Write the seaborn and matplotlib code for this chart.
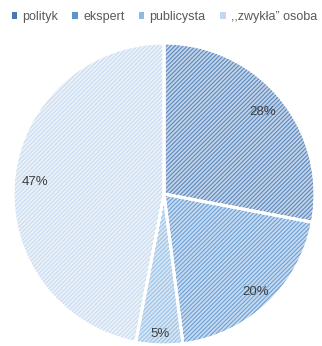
import matplotlib
matplotlib.use("Agg")
import matplotlib.pyplot as plt
from matplotlib.patches import Patch, Wedge
import seaborn as sns

categories = ["polityk", "ekspert", "publicysta", ",,zwykła\u201d osoba"]
shares = [28, 20, 5, 47]
line_colors = ["#4a78b0", "#5b95cf", "#8fb8e2", "#c4d7ee"]
hatch_colors = ["#5a87bd", "#6aa0d6", "#9cc2e8", "#c9dbf0"]
fill_colors = ["#c3d4e8", "#c8dbf1", "#d6e6f5", "#ebf2fa"]
label_dist = [0.85, 0.89, 0.93, 0.86]

sns.set_theme(style="white")
plt.rcParams["font.family"] = ["Liberation Sans", "DejaVu Sans"]
plt.rcParams["hatch.linewidth"] = 0.8

fig = plt.figure(figsize=(3.22, 3.46), dpi=100)
ax = fig.add_axes([13 / 322, 1 / 346, 302 / 322, 302 / 346])

wedges, texts, autotexts = ax.pie(
    shares,
    colors=sns.color_palette(fill_colors),
    startangle=90,
    counterclock=False,
    autopct="%d%%",
    pctdistance=1.0,
    wedgeprops=dict(edgecolor="white", linewidth=2),
    textprops=dict(color="#404040", fontsize=9.5),
)
for w, hc in zip(wedges, hatch_colors):
    w.set_hatch("////////")
    w._hatch_color = matplotlib.colors.to_rgba(hc)
# white borders on top of the hatching
for w in wedges:
    ax.add_patch(Wedge(w.center, w.r, w.theta1, w.theta2,
                       facecolor="none", edgecolor="white", linewidth=2))
for t, d in zip(autotexts, label_dist):
    x, y = t.get_position()
    t.set_position((x * d, y * d))
    t.set_zorder(5)
ax.set_xlim(-1, 1)
ax.set_ylim(-1, 1)
ax.set_aspect("equal")
ax.axis("off")

handles = [Patch(facecolor=c, edgecolor="none") for c in line_colors]
fig.legend(handles, categories, loc="upper center", bbox_to_anchor=(0.51, 1.0),
           ncol=4, frameon=False, fontsize=9, handlelength=0.45, handleheight=0.45,
           handletextpad=0.4, columnspacing=1.15, labelcolor="#595959")

fig.savefig("out.png", dpi=100)
